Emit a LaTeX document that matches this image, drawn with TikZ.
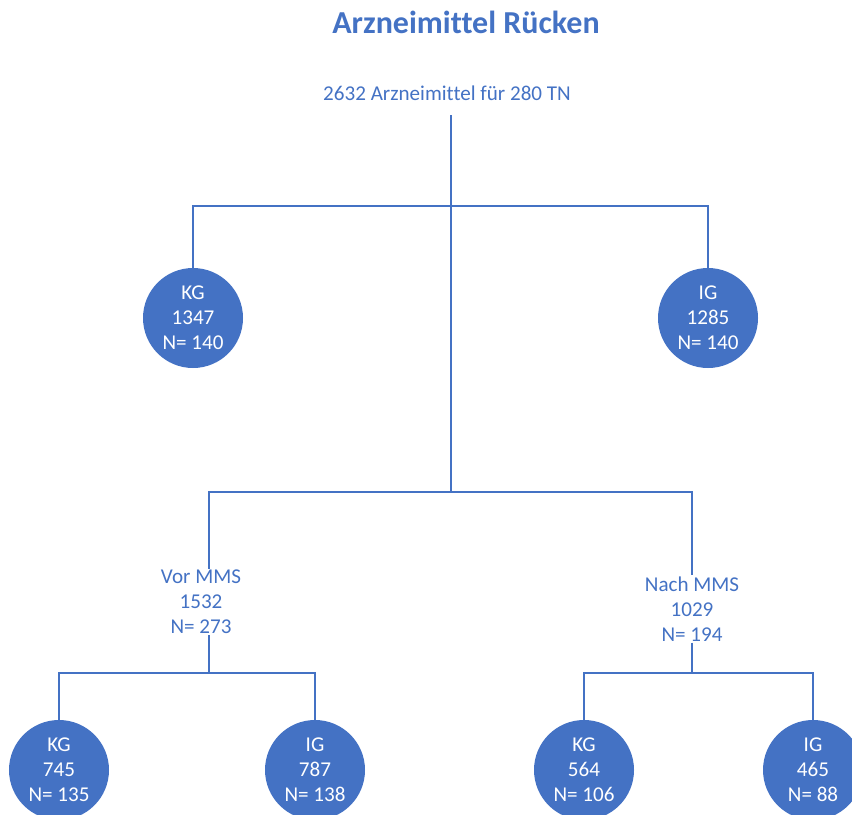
\documentclass[tikz,border=0pt]{standalone}
\usepackage{fontspec}
\setmainfont{Carlito}[Ligatures=NoCommon]
\usepackage{tikz}
\usetikzlibrary{arrows,calc}
\definecolor{blau}{HTML}{4472C4}

\begin{document}
\begin{tikzpicture}[x=0.03cm,y=0.03cm,
           link/.style={draw=blau,line width=2.2pt},
           group/.style={circle,fill=blau,text=white,inner sep=0pt,minimum size=3cm,align=center,font=\fontsize{18}{21.3}\selectfont},
           label/.style={text=blau,inner sep=1pt,align=center,font=\fontsize{18}{21.3}\selectfont}]
           \useasboundingbox (0,0) rectangle (852,-814);
           \clip (0,0) rectangle (852,-814);
           \node[text=blau,font=\fontsize{27.3}{30}\selectfont\bfseries] (title) at (466,-22) {Arzneimittel Rücken};
           \node[label] (total) at (447,-93) {2632 Arzneimittel für 280 TN};
           \coordinate (trunk) at (451,-115);
           \coordinate (split1) at (451,-206);
           \coordinate (split2) at (451,-492);
           \coordinate (vorx) at (209,-673);
           \coordinate (nachx) at (692,-673);
           \node[group] (kg) at (193,-318) {KG\\1347\\N= 140};
           \node[group] (ig) at (708,-318) {IG\\1285\\N= 140};
           \node[label] (vor) at (201,-602) {Vor MMS\\1532\\N= 273};
           \node[label] (nach) at (692,-609) {Nach MMS\\1029\\N= 194};
           \node[group] (kgvor) at (59,-770) {KG\\745\\N= 135};
           \node[group] (igvor) at (315,-770) {IG\\787\\N= 138};
           \node[group] (kgnach) at (584,-770) {KG\\564\\N= 106};
           \node[group] (ignach) at (813,-770) {IG\\465\\N= 88};
           \draw[link] (trunk) -- (split2);
           \draw[link] (kg.north) |- (split1) -| (ig.north);
           \draw[link] (vor.north -| vorx) |- (split2) -| (nach.north);
           \draw[link] (vor.south -| vorx) -- (vorx);
           \draw[link] (nach.south) -- (nachx);
           \draw[link] (kgvor.north) |- (vorx) -| (igvor.north);
           \draw[link] (kgnach.north) |- (nachx) -| (ignach.north);
        \end{tikzpicture}
\end{document}
